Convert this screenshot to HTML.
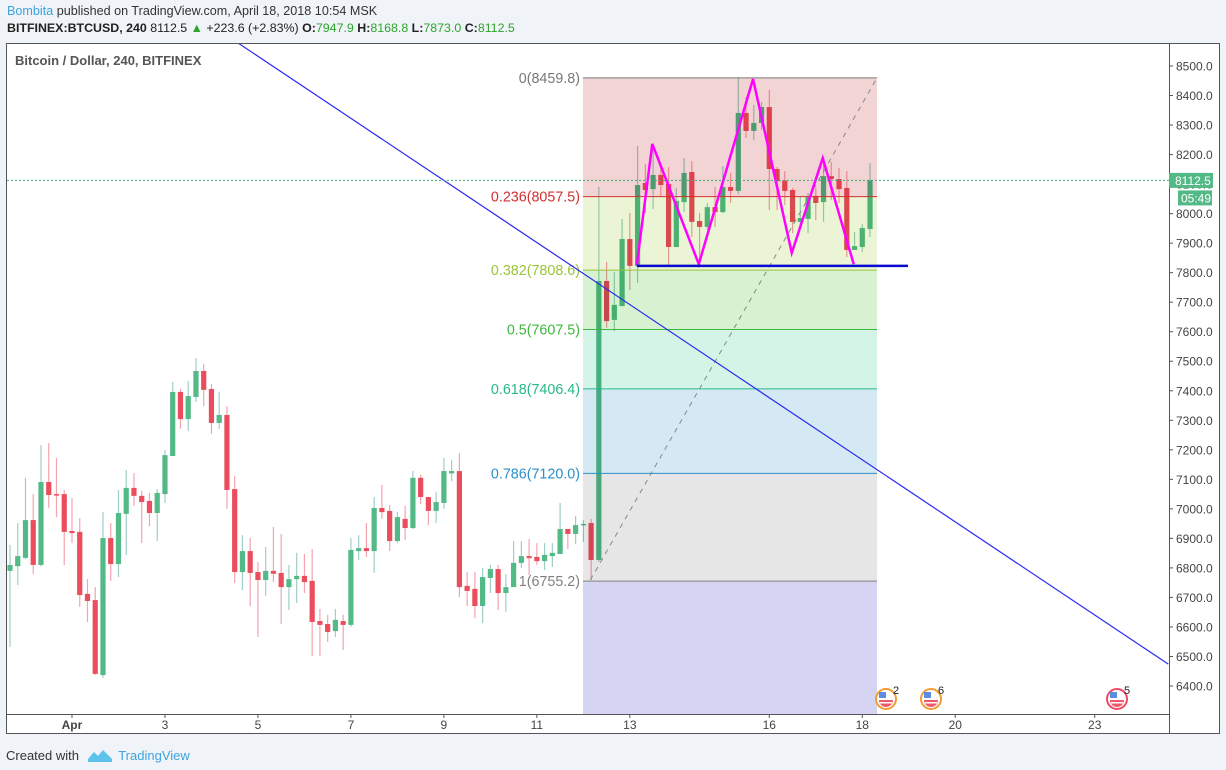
<!DOCTYPE html>
<html><head><meta charset="utf-8">
<style>
body{margin:0;width:1226px;height:770px;background:#f0f3f7;font-family:"Liberation Sans",sans-serif;overflow:hidden;position:relative}
.hdr1{position:absolute;left:7px;top:4px;font-size:12.6px;color:#333}
.hdr2{position:absolute;left:7px;top:21px;font-size:12.4px;color:#222;font-weight:bold}
.hdr2 .n{font-weight:normal}.hdr2 .g{color:#2ca52c;font-weight:normal}
.foot{position:absolute;left:6px;top:744px;font-size:13px;color:#333}
svg{position:absolute;left:0;top:0}
</style></head><body>
<div class="hdr1"><span style="color:#3da3e0">Bombita</span> published on TradingView.com, April 18, 2018 10:54 MSK</div>
<div class="hdr2">BITFINEX:BTCUSD, 240 <span class="n">8112.5</span> <span style="color:#2ca52c">▲</span> <span class="n">+223.6 (+2.83%)</span> O:<span class="g">7947.9</span> H:<span class="g">8168.8</span> L:<span class="g">7873.0</span> C:<span class="g">8112.5</span></div>
<div class="foot">Created with <svg style="position:relative;left:4px;top:3px;display:inline" width="26" height="16" viewBox="0 0 26 16"><path d="M1 12 L7 5 L11 9 L16 3 L25 12 L25 15 L1 15Z" fill="#5bc3ec"/></svg> <span style="color:#3da3e0;margin-left:6px">TradingView</span></div>
<svg id="chart" width="1226" height="770"></svg>
<script>
const opens=[6790,6806,6834,6962,6810,7091,7050,7050,6925,6922,6712,6691,6437,6901,6813,6983,7071,7044,7027,6986,7050,7179,7396,7304,7379,7467,7406,7291,7318,7067,
6786,6857,6786,6759,6790,6783,6735,6762,6773,6756,6620,6610,6586,6620,6607,6857,6867,6857,7003,6993,6891,6966,6935,7105,7040,6993,7020,7120,7128,6739,
6729,6671,6766,6796,6715,6735,6817,6840,6837,6823,6840,6847,6932,6915,6945,6952,6827,7772,7640,7687,7914,7823,8104,8083,8131,8100,7887,8039,8141,7975,
7955,8022,8005,8090,8077,8341,8280,8307,8361,8151,8112,8080,7972,7982,8060,8039,8127,8117,8087,7877,7887,7948];
const highs=[6878,6952,7105,7050,7216,7223,7172,7064,7037,6969,6762,6735,6989,6952,7064,7132,7121,7061,7054,7067,7199,7430,7406,7433,7511,7491,7423,7396,7348,7111,
6911,6901,6820,6871,6939,6915,6810,6851,6847,6864,6661,6641,6661,6641,6901,6911,6952,7040,7081,7013,6989,7010,7128,7115,7040,7057,7172,7166,7189,6786,
6786,6800,6810,6810,6779,6891,6891,6898,6884,6884,6884,7020,6932,6976,6962,6966,8090,7836,7802,7982,8002,8229,8168,8236,8158,8158,8087,8188,8178,8002,
8036,8090,8161,8138,8463,8395,8368,8378,8419,8158,8144,8087,8056,8070,8087,8182,8175,8155,8144,7938,7965,8171];
const lows=[6532,6742,6830,6779,6805,7003,6972,6810,6884,6668,6617,6437,6427,6756,6769,6844,7010,6884,6942,6891,7020,7179,7271,7264,7362,7348,7254,7271,7000,6749,
6725,6671,6566,6705,6752,6610,6657,6681,6715,6502,6502,6549,6566,6522,6600,6827,6837,6783,6966,6857,6884,6895,6932,7016,6945,6952,7000,7094,6701,6671,
6630,6613,6715,6657,6651,6735,6800,6776,6810,6793,6803,6847,6864,6881,6888,6759,6820,7613,7602,7687,7741,7765,8002,8016,8056,7826,7887,8005,7921,7826,
7945,7955,8002,8036,8066,8256,8249,8283,8012,8012,8029,7934,7945,7934,7978,7972,8046,8036,7853,7877,7870,7921];
const closes=[6810,6840,6962,6810,7091,7047,7048,6922,6918,6708,6688,6441,6901,6813,6986,7071,7044,7023,6986,7054,7182,7396,7304,7382,7467,7403,7291,7318,7064,6786,
6857,6783,6759,6790,6780,6735,6762,6773,6752,6617,6607,6583,6624,6607,6861,6867,6857,7003,6989,6891,6972,6935,7105,7040,6993,7023,7128,7128,6735,6722,
6671,6769,6796,6715,6735,6817,6840,6833,6823,6844,6851,6932,6915,6945,6949,6827,7772,7636,7691,7914,7823,8097,8080,8131,8097,7887,8043,8138,7972,7955,
8022,8005,8090,8077,8341,8280,8307,8361,8151,8110,8077,7972,7985,8056,8036,8127,8117,8083,7877,7890,7951,8112.5];
const priceTicks=[6400,6500,6600,6700,6800,6900,7000,7100,7200,7300,7400,7500,7600,7700,7800,7900,8000,8100,8200,8300,8400,8500];
const dayTicks=[1,3,5,7,9,11,13,16,18,20,23];
const dayLabels=["Apr","3","5","7","9","11","13","16","18","20","23"];
const fibRatios=[0,0.236,0.382,0.5,0.618,0.786,1];
const fibHigh=8459.8, fibLow=6755.2;
const lastPrice=8112.5;

const NS="http://www.w3.org/2000/svg";
const svg=document.getElementById('chart');
const PL=7,PR=1169,PT=43,PB=714;
function yS(p){return 66+(8500-p)*0.29524;}
function xS(i){return 10+i*7.748;}
function xDay(d){return xS(8+(d-1)*6);}
function el(t,a,parent){const e=document.createElementNS(NS,t);for(const k in a)e.setAttribute(k,a[k]);(parent||svg).appendChild(e);return e;}

const frame=el('rect',{x:6.5,y:43.5,width:1213,height:690,fill:'#fff',stroke:'#555'});

const clip=el('clipPath',{id:'pc'});el('rect',{x:PL,y:PT+1,width:PR-PL,height:PB-PT-1},clip);
const g=el('g',{'clip-path':'url(#pc)'});


for(let i=0;i<opens.length;i++){
  const up=closes[i]>=opens[i];
  const x=xS(i);
  const c=el('g',{},g);
  
  
  el('line',{x1:x,x2:x,y1:yS(highs[i]),y2:yS(lows[i]),stroke:up?'#9fcfc6':'#f5a3ad','stroke-width':1.2},c);
  const t=yS(Math.max(opens[i],closes[i])),b=yS(Math.min(opens[i],closes[i]));
  el('rect',{x:x-2.6,y:t,width:5.2,height:Math.max(1.5,b-t),fill:up?'#53b987':'#eb4d5c'},c);
}

const fx1=xS(73.95),fx2=xS(111.9);
const fibFills=['#f3d4d4','#ebf4d5','#d6f2d0','#d4f4e8','#d5e9f4','#e6e6e6'];
const fibColors=['#787878','#d32f2f','#9ac43a','#3cb83c','#26b88a','#2a8fc9','#808080'];
const fibLvl=fibRatios.map(r=>fibHigh-(fibHigh-fibLow)*r);
for(let k=0;k<fibLvl.length-1;k++){
  const r=el('rect',{x:fx1,y:yS(fibLvl[k]),width:fx2-fx1,height:yS(fibLvl[k+1])-yS(fibLvl[k]),fill:fibFills[k],style:'mix-blend-mode:multiply'},g);
  
}
const lz=el('rect',{x:fx1,y:yS(fibLow),width:fx2-fx1,height:PB-yS(fibLow),fill:'#d5d5f3',style:'mix-blend-mode:multiply'},g);

for(let k=0;k<fibLvl.length;k++){
  const y=yS(fibLvl[k]);
  const l=el('line',{x1:fx1,x2:fx2,y1:y,y2:y,stroke:fibColors[k],'stroke-width':1},g);
  
  const t=el('text',{x:fx1-3,y:y+5,'text-anchor':'end','font-size':14.3,fill:fibColors[k]},g);
  t.textContent=fibRatios[k]+'('+fibLvl[k].toFixed(1)+')';
  
}
const dl=el('line',{x1:xS(74.9),y1:yS(6759),x2:xS(111.9),y2:yS(8459.8),stroke:'#888','stroke-width':1,'stroke-dasharray':'5 5'},g);


const bl=el('line',{x1:xS(29.43),y1:yS(8578),x2:xS(149.5),y2:yS(6474),stroke:'#2b2bf0','stroke-width':1.2},g);


const zzI=[80.9,82.9,88.9,95.9,100.9,104.9,108.9];
const zzP=[7826,8236,7829,8456,7867,8188,7829];
const zz=el('polyline',{points:zzI.map((v,k)=>xS(v)+','+yS(zzP[k])).join(' '),fill:'none',stroke:'#ff00ff','stroke-width':2.5},g);

const nl=el('line',{x1:xS(80.9),x2:xS(115.9),y1:yS(7823),y2:yS(7823),stroke:'#0a0ad0','stroke-width':2.5},g);


const lp=el('line',{x1:PL,x2:PR,y1:yS(lastPrice),y2:yS(lastPrice),stroke:'#3bab74','stroke-width':1,'stroke-dasharray':'2 2'},g);


const tt=el('text',{x:15,y:65,'font-size':13,'font-weight':'bold',fill:'#555'});
tt.textContent='Bitcoin / Dollar, 240, BITFINEX';


el('line',{x1:PR+0.5,x2:PR+0.5,y1:PT,y2:733,stroke:'#555'});
el('line',{x1:6,x2:PR,y1:PB+0.5,y2:PB+0.5,stroke:'#555'});
for(const p of priceTicks){
  const y=yS(p);
  el('line',{x1:PR,x2:PR+4,y1:y,y2:y,stroke:'#555'});
  const t=el('text',{x:PR+7,y:y+4.5,'font-size':12,fill:'#444'});
  t.textContent=p.toFixed(1);
  
}
for(let k=0;k<dayTicks.length;k++){
  const x=xDay(dayTicks[k]);
  el('line',{x1:x,x2:x,y1:PB,y2:PB+4,stroke:'#555'});
  const t=el('text',{x:x,y:729,'text-anchor':'middle','font-size':12,fill:'#444','font-weight':k===0?'bold':'normal'});
  t.textContent=dayLabels[k];
  
}
const ly=yS(lastPrice);
const pb=el('rect',{x:PR,y:ly-7.5,width:44,height:15,fill:'#53b987'});

const pt=el('text',{x:PR+6,y:ly+4.5,'font-size':12,fill:'#fff'});pt.textContent='8112.5';
el('rect',{x:PR+9,y:ly+10,width:34,height:15,fill:'#53b987'});
const ct=el('text',{x:PR+12,y:ly+22,'font-size':12,fill:'#fff'});ct.textContent='05:49';


const evX=[886,931,1117],evN=['2','6','5'],evC=['#f39c33','#f39c33','#ef4a66'];
for(let k=0;k<3;k++){
  const ge=el('g',{});
  
  
  el('circle',{cx:evX[k],cy:699,r:10,fill:'#fff',stroke:evC[k],'stroke-width':2},ge);
  el('rect',{x:evX[k]-7,y:692,width:7,height:6,fill:'#5b8ee0'},ge);
  el('path',{d:`M${evX[k]-7} 700 H${evX[k]+7} A7 7 0 0 1 ${evX[k]-7} 700Z`,fill:'#ef5a6a'},ge);
  el('rect',{x:evX[k]-6,y:702,width:12,height:1.5,fill:'#fff'},ge);
  const n=el('text',{x:evX[k]+7,y:694,'font-size':11,fill:'#222'},ge);n.textContent=evN[k];
}
</script>
</body></html>
